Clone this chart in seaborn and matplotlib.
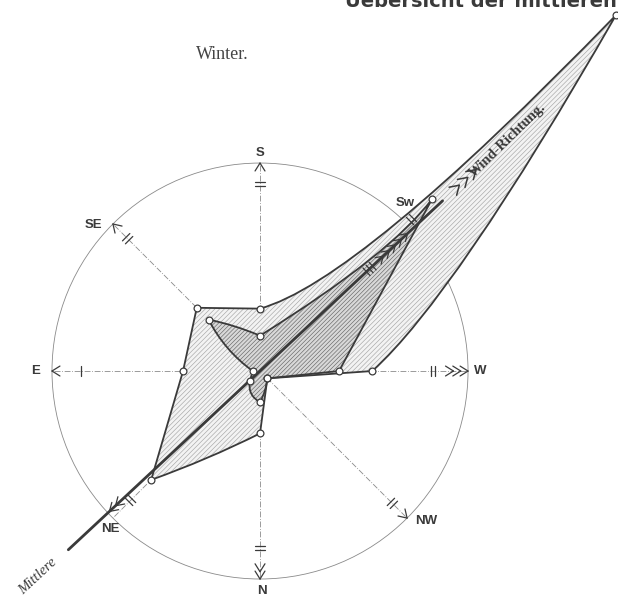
import numpy as np
import pandas as pd
import seaborn as sns
import matplotlib.pyplot as plt
from matplotlib.path import Path
from matplotlib.patches import PathPatch, Circle

# >--wind rose, winter--<

# directions as drawn: S up, W right, N down, E left
directions = ["S", "SW", "W", "NW", "N", "NE", "E", "SE"]
angles = [90, 45, 0, -45, -90, -135, 180, 135]

# radii in units of the reference circle
outer_r = [0.30, 2.42, 0.54, 0.05, 0.30, 0.74, 0.37, 0.43]
inner_r = [0.17, 1.17, 0.38, 0.05, 0.15, 0.07, 0.035, 0.35]
mean_direction = 43

title = "Winter."
header = "Uebersicht der mittleren"

# styling (edge bend / shift for the hand drawn curves)
outer_edges = [(-0.09, -0.30), (0.06, 0.25), (0, 0), (0, 0), (0.03, 0), (0, 0), (0, 0), (0, 0)]
inner_edges = [(-0.08, 0.2), (0, 0), (0, 0), (0.1, 0), (0.35, 0), (0, 0), (0.12, 0), (0.05, 0)]
chevrons = [1, 0, 3, 1, 2, 0, 1, 1]
tick_bars = [2, 2, 2, 2, 2, 2, 1, 2]
tick_pos = [0.90, 1.03, 0.83, 0.90, 0.85, 0.88, 0.86, 0.90]
label_pos = {
    "S": (0.0, 1.05), "SW": (0.70, 0.81), "W": (1.06, 0.0), "NW": (0.80, -0.72),
    "N": (0.01, -1.06), "NE": (-0.72, -0.76), "E": (-1.08, 0.0), "SE": (-0.80, 0.70),
}
ink = "#3a3a3a"


def polar_xy(r, a):
    t = np.deg2rad(a)
    return np.array([r * np.cos(t), r * np.sin(t)])


def curved_path(radii, edges):
    pts = [polar_xy(r, a) for r, a in zip(radii, angles)]
    verts = [pts[0]]
    codes = [Path.MOVETO]
    n = len(pts)
    for i in range(n):
        p0, p1 = pts[i], pts[(i + 1) % n]
        bend, shift = edges[i]
        d = p1 - p0
        L = np.hypot(*d)
        u = d / L
        nrm = np.array([-u[1], u[0]])
        ctrl = (p0 + p1) / 2 + L * (shift * u + bend * nrm)
        verts += [ctrl, p1]
        codes += [Path.CURVE3, Path.CURVE3]
    return Path(verts, codes), pts


def chevron(ax, a, r_tip, size=0.045, lw=0.9):
    tip = polar_xy(r_tip, a)
    for s in (-32, 32):
        arm = tip + polar_xy(size, a + 180 + s)
        ax.plot([tip[0], arm[0]], [tip[1], arm[1]], color=ink, lw=lw, zorder=4)


def tick(ax, a, r, count, length=0.05, gap=0.02):
    for k in range(count):
        c = polar_xy(r + (k - (count - 1) / 2) * gap, a)
        h = polar_xy(length / 2, a + 90)
        ax.plot([c[0] - h[0], c[0] + h[0]], [c[1] - h[1], c[1] + h[1]], color=ink, lw=0.9, zorder=4)


sns.set_theme(style="white")
plt.rcParams["hatch.linewidth"] = 0.45

fig = plt.figure(figsize=(6.18, 6.05), dpi=100)
ax = fig.add_axes([0, 0, 1, 1])
ax.set_xlim(-1.25, 1.721)
ax.set_ylim(-1.125, 1.784)
ax.axis("off")

# reference circle and the eight axes
ax.add_patch(Circle((0, 0), 1, fill=False, lw=0.6, ec="#8a8a8a", zorder=1))
for i, a in enumerate(angles):
    end = polar_xy(1, a)
    ax.plot([0, end[0]], [0, end[1]], color="#8a8a8a", lw=0.6, ls=(0, (7, 2, 1, 2)), zorder=1)
    for k in range(chevrons[i]):
        chevron(ax, a, 1 - k * 0.035)
    tick(ax, a, tick_pos[i], tick_bars[i])
    lx, ly = label_pos[directions[i]]
    ax.text(lx, ly, "Sw" if directions[i] == "SW" else directions[i], ha="center", va="center",
            fontsize=9.5, fontweight="bold", color=ink, family="Liberation Sans")

# hatched polygons
outer_path, outer_pts = curved_path(outer_r, outer_edges)
inner_path, inner_pts = curved_path(inner_r, inner_edges)
ax.add_patch(PathPatch(outer_path, facecolor="#f3f3f3", edgecolor="#a6a6a6", hatch="///////", lw=0, zorder=2))
ax.add_patch(PathPatch(inner_path, facecolor="#d8d8d8", edgecolor="#666666", hatch="////////", lw=0, zorder=2))
ax.add_patch(PathPatch(outer_path, fill=False, edgecolor=ink, lw=1.3, zorder=3))
ax.add_patch(PathPatch(inner_path, fill=False, edgecolor=ink, lw=1.3, zorder=3))

# mean wind direction
mean_df = pd.DataFrame([polar_xy(r, mean_direction) for r in (-1.26, 1.2)], columns=["x", "y"])
sns.lineplot(data=mean_df, x="x", y="y", ax=ax, color=ink, lw=2.0, zorder=4)
for k in range(5):
    chevron(ax, mean_direction, 0.97 - k * 0.04, size=0.04)
for k in range(2):
    chevron(ax, mean_direction + 180, 0.99 - k * 0.04, size=0.045)
for k in range(3):
    chevron(ax, mean_direction, 1.42 - k * 0.055, size=0.05, lw=1.1)
tick(ax, mean_direction, 0.72, 3)

# vertex rings
pts_df = pd.DataFrame(outer_pts + inner_pts, columns=["x", "y"])
sns.scatterplot(data=pts_df, x="x", y="y", ax=ax, s=24, color="white", edgecolor=ink, linewidth=0.9, zorder=5)
ax.set_xlabel("")
ax.set_ylabel("")

# lettering
ax.text(-0.18, 1.52, title, ha="center", va="center", fontsize=13, color="#444444", family="Liberation Serif")
ax.text(1.19, 1.11, "Wind-Richtung.", ha="center", va="center", rotation=44, fontsize=10.5,
        fontweight="bold", color=ink, family="Liberation Serif")
ax.text(-1.07, -0.99, "Mittlere", ha="center", va="center", rotation=43, fontsize=10.5,
        fontstyle="italic", color=ink, family="Liberation Serif")
# page heading, cut off at the top edge as in the scan
ax.text(0.41, 1.752, header, ha="left", va="baseline", fontsize=14, fontweight="bold",
        color=ink, family="DejaVu Sans")

fig.savefig("out.png", dpi=100)
print("✅ saved out.png")
